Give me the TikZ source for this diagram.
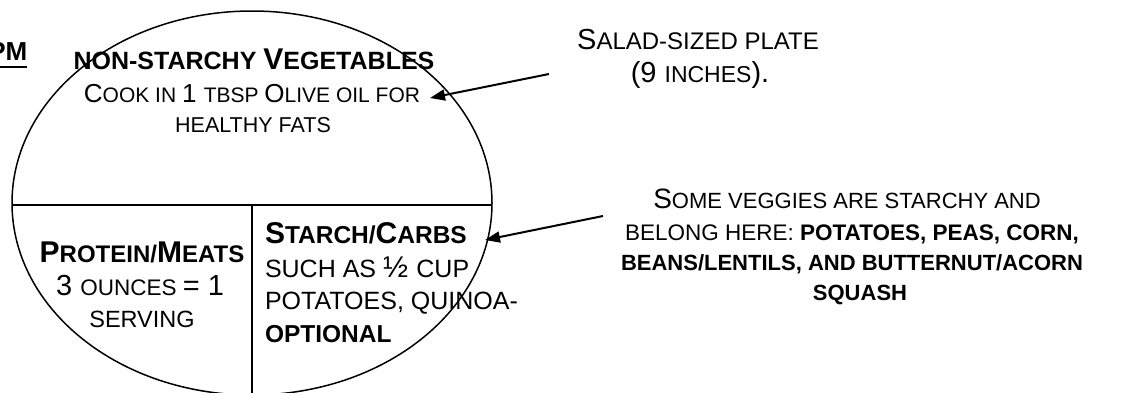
\documentclass[tikz,border=0pt]{standalone}
\usepackage{fontspec}
\setmainfont{Liberation Sans}
\usetikzlibrary{arrows.meta}
\newcommand\fs[1]{\fontsize{#1}{#1}\selectfont}
\begin{document}
\begin{tikzpicture}[x=1pt,y=-1pt,
  txt/.style={inner sep=0pt,outer sep=0pt,anchor=base},
  txtl/.style={inner sep=0pt,outer sep=0pt,anchor=base west},
  plate/.style={line width=1.5pt},
  pointer/.style={line width=2pt,-{Triangle[length=15pt,width=11pt]}}]
\useasboundingbox (0,0) rectangle (1142,392);
\clip (0,0) rectangle (1142,392);
% plate
\draw[plate] (252,203) ellipse [x radius=240, y radius=192];
\coordinate (hl) at (12,205);
\coordinate (hr) at (492,205);
\coordinate (vt) at (252,205);
\coordinate (vb) at (252,400);
\draw[plate] (hl) -- (hr);
\draw[plate] (vt) -- (vb);
% cut-off title
\node[inner sep=0pt,anchor=base east] (pm) at (27.5,60) {\bfseries\fs{26}PM};
\fill (0,65.8) rectangle (27,68.2);
% top section
\node[txt] (veg) at (254,69) {\bfseries\fs{25}NON-STARCHY \fs{30}V\fs{25}EGETABLES};
\node[txt] (cook) at (252,102) {\fs{26}C\fs{21}OOK IN \fs{26}1 \fs{21}TBSP \fs{26}O\fs{21}LIVE OIL FOR};
\node[txt] (fats) at (253,132) {\fs{21.5}HEALTHY FATS};
% protein
\node[txt] (prot) at (142,262) {\bfseries\fs{30}P\fs{24}ROTEIN/\fs{30}M\fs{24}EATS};
\node[txt] (oz) at (140,295) {\fs{29}3 \fs{22.5}OUNCES \fs{29}= 1};
\node[txt] (serv) at (142,327) {\fs{23.5}SERVING};
% starch
\node[txtl] (starch) at (265,243) {\bfseries\fs{30}S\fs{24.5}TARCH/\fs{30}C\fs{24.5}ARBS};
\node[txtl] (such) at (265,277) {\fs{25}SUCH AS \fs{30}½ \fs{25}CUP};
\node[txtl] (pot) at (265,309) {\fs{25}POTATOES, QUINOA-};
\node[txtl] (opt) at (265,342) {\bfseries\fs{24.5}OPTIONAL};
% right notes
\node[txt] (salad) at (698,49) {\fs{29}S\fs{24}ALAD-SIZED PLATE};
\node[txt] (inch) at (700,82) {\fs{29}(9 \fs{23}INCHES\fs{29}).};
\node[txt] (some) at (847,208) {\fs{28}S\fs{22}OME VEGGIES ARE STARCHY AND};
\node[txt] (bel) at (852,240) {\fs{22.5}BELONG HERE: \bfseries POTATOES, PEAS, CORN,};
\node[txt] (bean) at (852,270) {\bfseries\fs{22}BEANS/LENTILS, AND BUTTERNUT/ACORN};
\node[txt] (sq) at (860,300) {\bfseries\fs{22}SQUASH};
% arrows
\coordinate (a1s) at (549,74);
\coordinate (a1e) at (430,98);
\coordinate (a2s) at (603,216);
\coordinate (a2e) at (485,240);
\draw[pointer] (a1s) -- (a1e);
\draw[pointer] (a2s) -- (a2e);
\end{tikzpicture}
\end{document}
